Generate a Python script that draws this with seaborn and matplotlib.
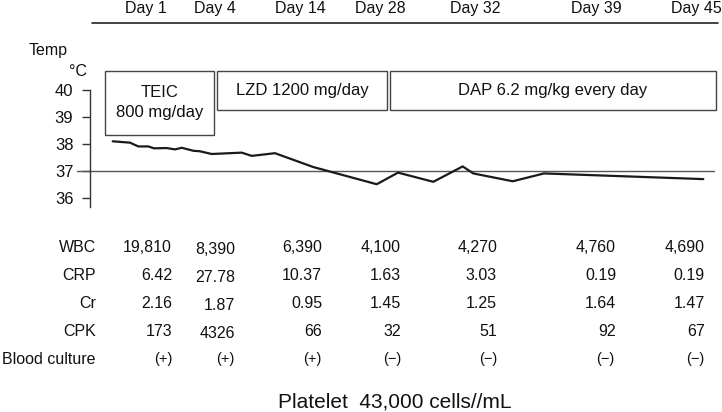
import matplotlib
matplotlib.use("Agg")
import matplotlib.pyplot as plt
import seaborn as sns
import pandas as pd
from matplotlib.patches import Rectangle

# ---------------- data ----------------
days = ["Day 1", "Day 4", "Day 14", "Day 28", "Day 32", "Day 39", "Day 45"]
row_labels = ["WBC", "CRP", "Cr", "CPK", "Blood culture"]
wbc = ["19,810", "8,390", "6,390", "4,100", "4,270", "4,760", "4,690"]
crp = ["6.42", "27.78", "10.37", "1.63", "3.03", "0.19", "0.19"]
cr = ["2.16", "1.87", "0.95", "1.45", "1.25", "1.64", "1.47"]
cpk = ["173", "4326", "66", "32", "51", "92", "67"]
culture = ["(+)", "(+)", "(+)", "(\u2212)", "(\u2212)", "(\u2212)", "(\u2212)"]
drugs = ["TEIC\n800 mg/day", "LZD 1200 mg/day", "DAP 6.2 mg/kg every day"]
# temperature curve: timeline position (chart units) and temperature (°C)
temp_time = [112.7, 130, 138.3, 148.3, 154, 166.7, 175, 181.7, 193.3, 200,
             211.7, 241.7, 251.7, 275, 313, 376.7, 398, 433.3, 462.7, 473.3,
             512.7, 544, 703.3]
temp_c = [38.10, 38.05, 37.91, 37.91, 37.84, 37.85, 37.80, 37.86, 37.75, 37.73,
          37.63, 37.68, 37.56, 37.66, 37.15, 36.51, 36.94, 36.60, 37.17, 36.91,
          36.62, 36.91, 36.70]
temp_ticks = [36, 37, 38, 39, 40]
reference_temp = 37
temp_label = "Temp"
unit_label = "\u00b0C"
platelet = "Platelet  43,000 cells//mL"

# ---------------- style ----------------
sns.set_style("white")
plt.rcParams["font.family"] = ["Liberation Sans", "DejaVu Sans"]
TXT = "#111111"
LINE = "#333333"

W, H = 722, 412
fig = plt.figure(figsize=(W / 100, H / 100), dpi=100)

# background layer in chart-pixel units for the annotations
bg = fig.add_axes([0, 0, 1, 1])
bg.set_xlim(0, W)
bg.set_ylim(H, 0)
bg.axis("off")

# ---------------- temperature axes ----------------
ax_left, ax_right, ax_top, ax_bottom = 90, W, 90, 207
ax = fig.add_axes([ax_left / W, 1 - ax_bottom / H,
                   (ax_right - ax_left) / W, (ax_bottom - ax_top) / H])
ax.patch.set_alpha(0)
df = pd.DataFrame({"time": temp_time, "temp": temp_c})
sns.lineplot(data=df, x="time", y="temp", ax=ax, color="#1a1a1a",
             linewidth=1.6, estimator=None)
ax.set_xlim(ax_left, ax_right)
ax.set_ylim(35.667, 40.0)
ax.set_xticks([])
ax.set_yticks(temp_ticks)
ax.set_xlabel("")
ax.set_ylabel("")
for s in ["top", "right", "bottom"]:
    ax.spines[s].set_visible(False)
ax.spines["left"].set_color(LINE)
ax.spines["left"].set_linewidth(1.0)
ax.tick_params(axis="y", length=6, width=1, pad=6, labelsize=12,
               color=LINE, labelcolor=TXT, left=True)
span = ax_right - ax_left
ax.axhline(reference_temp, xmin=(77 - ax_left) / span, xmax=(714 - ax_left) / span,
           clip_on=False, color="#555555", linewidth=1.0, zorder=1)

# axis title
bg.text(48, 50, temp_label, ha="center", va="center", fontsize=11.5, color=TXT)
bg.text(87, 71, unit_label, ha="right", va="center", fontsize=11.5, color=TXT)

# ---------------- day header ----------------
day_x = [146, 215, 300, 380, 475, 596, 696]
bg.plot([92, 718], [23, 23], color="#222222", linewidth=1.2)
for x, d in zip(day_x, days):
    bg.text(x, 8, d, ha="center", va="center", fontsize=11.5, color=TXT)

# ---------------- drug boxes ----------------
boxes = [(105, 71, 109, 64), (217, 71, 170, 39), (390, 71, 326, 39)]
for (x, y, w, h), label in zip(boxes, drugs):
    bg.add_patch(Rectangle((x, y), w, h, facecolor="white", edgecolor="#444444",
                           linewidth=1.0))
    if "\n" in label:
        l1, l2 = label.split("\n")
        bg.text(x + w / 2, 92, l1, ha="center", va="center", fontsize=12, color=TXT)
        bg.text(x + w / 2, 112, l2, ha="center", va="center", fontsize=12, color=TXT)
    else:
        bg.text(x + w / 2, 90, label, ha="center", va="center", fontsize=12, color=TXT)

# ---------------- lab table ----------------
row_y = [247, 276, 303, 331, 359]
col_right = [172, 235, 322, 401, 497, 616, 705]
col_dy = [0, 2, 0, 0, 0, 0, 0]
culture_x = [163, 225, 312, 392, 488, 605, 695]
for y, lab in zip(row_y, row_labels):
    bg.text(96, y, lab, ha="right", va="center", fontsize=11.5, color=TXT)
for y, vals in zip(row_y[:4], [wbc, crp, cr, cpk]):
    for x, dy, v in zip(col_right, col_dy, vals):
        bg.text(x, y + dy, v, ha="right", va="center", fontsize=11.5, color=TXT)
for x, v in zip(culture_x, culture):
    bg.text(x, row_y[4], v, ha="center", va="center", fontsize=10.5, color=TXT)

bg.text(395, 402, platelet, ha="center", va="center", fontsize=15, color=TXT)

fig.savefig("out.png", dpi=100)
